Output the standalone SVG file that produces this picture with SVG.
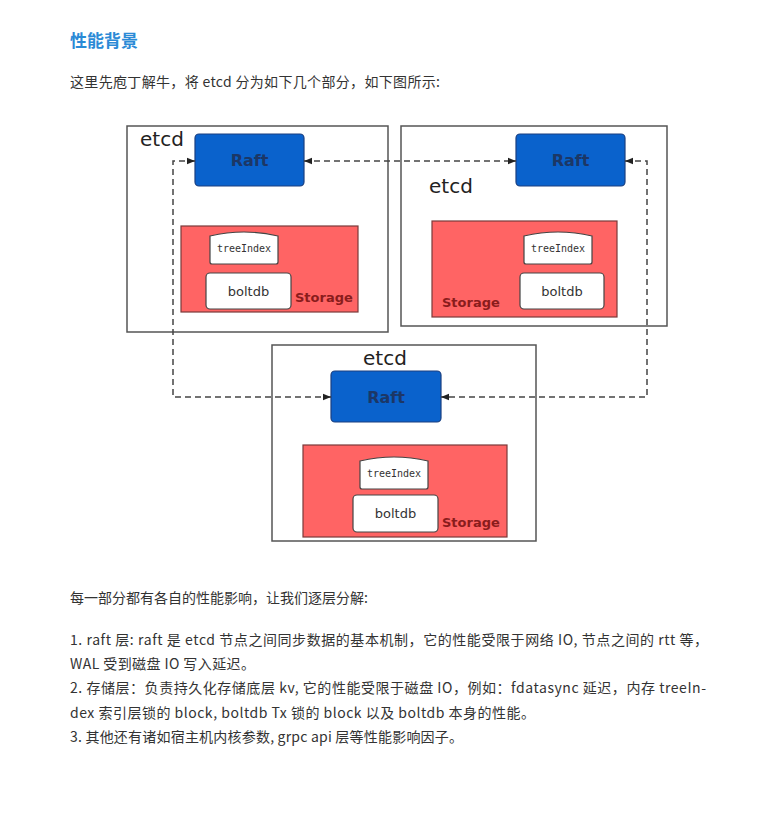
<svg xmlns="http://www.w3.org/2000/svg" width="765" height="828" viewBox="0 0 765 828">
<style>
.bg{fill:#ffffff}
.title{font-family:"Noto Sans CJK SC","Noto Sans",sans-serif;font-size:17px;font-weight:bold;fill:#2b8ad6}
.body{font-family:"Noto Sans CJK SC","Noto Sans",sans-serif;font-size:14px;fill:#333333}
.outer{fill:#ffffff;stroke:#555555;stroke-width:1.5}
.raft{fill:#0a62cc;stroke:#1a3f80;stroke-width:1.2}
.raftt{font-family:"DejaVu Sans",sans-serif;font-size:16px;font-weight:bold;fill:#1c3766;text-anchor:middle}
.etcd{font-family:"DejaVu Sans",sans-serif;font-size:20px;fill:#222222}
.stor{fill:#ff6464;stroke:#7a3a3a;stroke-width:1.2}
.stort{font-family:"DejaVu Sans",sans-serif;font-size:13px;font-weight:bold;fill:#8a1c1c}
.inner{fill:#ffffff;stroke:#444444;stroke-width:1.2}
.tit{font-family:"DejaVu Sans Mono",monospace;font-size:10px;fill:#333333;text-anchor:middle}
.bdt{font-family:"DejaVu Sans",sans-serif;font-size:13px;fill:#333333;text-anchor:middle}
.conn{fill:none;stroke:#444444;stroke-width:1.5;stroke-dasharray:6 4}
</style>
<defs>
<marker id="arr" viewBox="0 0 10 10" refX="10" refY="5" markerWidth="8" markerHeight="8" markerUnits="userSpaceOnUse" orient="auto-start-reverse">
<path d="M0,1 L10,5 L0,9 Z" fill="#222222"/>
</marker>
</defs>
<rect class="bg" x="0" y="0" width="765" height="828"/>

<text class="title" x="70" y="47">性能背景</text>
<text class="body" x="70" y="87" textLength="370" lengthAdjust="spacing">这里先庖丁解牛，将 etcd 分为如下几个部分，如下图所示:</text>

<g id="etcd1">
<rect class="outer" x="127" y="126" width="261" height="206"/>
<text class="etcd" x="140" y="146">etcd</text>
</g>
<g id="etcd2">
<rect class="outer" x="401" y="126" width="266" height="200"/>
<text class="etcd" x="429" y="193">etcd</text>
</g>
<g id="etcd3">
<rect class="outer" x="272" y="345" width="264" height="196"/>
<text class="etcd" x="363" y="365">etcd</text>
</g>

<g id="raft1">
<rect class="raft" x="195" y="134" width="109" height="52" rx="4"/>
<text class="raftt" x="249.5" y="166">Raft</text>
</g>
<g id="raft2">
<rect class="raft" x="516" y="134" width="109" height="52" rx="4"/>
<text class="raftt" x="570.5" y="166">Raft</text>
</g>
<g id="raft3">
<rect class="raft" x="331" y="371" width="110" height="51" rx="4"/>
<text class="raftt" x="386" y="403">Raft</text>
</g>

<g id="storage1">
<rect class="stor" x="181" y="226" width="177" height="86"/>
<text class="stort" x="295" y="302">Storage</text>
</g>
<g id="treeindex1">
<path class="inner" d="M210,236 Q244,228 278,236 L278,262 Q278,264 276,264 L212,264 Q210,264 210,262 Z"/>
<text class="tit" x="244" y="252">treeIndex</text>
</g>
<g id="boltdb1">
<rect class="inner" x="206" y="273" width="85" height="36" rx="4"/>
<text class="bdt" x="248.5" y="296">boltdb</text>
</g>

<g id="storage2">
<rect class="stor" x="432" y="221" width="185" height="96"/>
<text class="stort" x="442" y="307">Storage</text>
</g>
<g id="treeindex2">
<path class="inner" d="M524,236 Q558,228 592,236 L592,262 Q592,264 590,264 L526,264 Q524,264 524,262 Z"/>
<text class="tit" x="558" y="252">treeIndex</text>
</g>
<g id="boltdb2">
<rect class="inner" x="520" y="273" width="84" height="36" rx="4"/>
<text class="bdt" x="562" y="296">boltdb</text>
</g>

<g id="storage3">
<rect class="stor" x="303" y="445" width="204" height="92"/>
<text class="stort" x="442" y="527">Storage</text>
</g>
<g id="treeindex3">
<path class="inner" d="M360,461 Q394,453 428,461 L428,487 Q428,489 426,489 L362,489 Q360,489 360,487 Z"/>
<text class="tit" x="394" y="477">treeIndex</text>
</g>
<g id="boltdb3">
<rect class="inner" x="353" y="495" width="85" height="37" rx="4"/>
<text class="bdt" x="395.5" y="518">boltdb</text>
</g>

<g id="connectors">
<path class="conn" d="M304,161 L516,161" marker-start="url(#arr)" marker-end="url(#arr)"/>
<path class="conn" d="M195,161 L173,161 L173,397 L331,397" marker-start="url(#arr)" marker-end="url(#arr)"/>
<path class="conn" d="M625,161 L647,161 L647,397 L441,397" marker-start="url(#arr)" marker-end="url(#arr)"/>
</g>

<text class="body" x="70" y="603">每一部分都有各自的性能影响，让我们逐层分解:</text>
<text class="body" x="70" y="645" textLength="638" lengthAdjust="spacing">1. raft 层: raft 是 etcd 节点之间同步数据的基本机制，它的性能受限于网络 IO, 节点之间的 rtt 等，</text>
<text class="body" x="70" y="669" textLength="185" lengthAdjust="spacing">WAL 受到磁盘 IO 写入延迟。</text>
<text class="body" x="70" y="693" textLength="636" lengthAdjust="spacing">2. 存储层：负责持久化存储底层 kv, 它的性能受限于磁盘 IO，例如：fdatasync 延迟，内存 treeIn-</text>
<text class="body" x="70" y="718" textLength="465" lengthAdjust="spacing">dex 索引层锁的 block, boltdb Tx 锁的 block 以及 boltdb 本身的性能。</text>
<text class="body" x="70" y="742" textLength="393" lengthAdjust="spacing">3. 其他还有诸如宿主机内核参数, grpc api 层等性能影响因子。</text>
</svg>
